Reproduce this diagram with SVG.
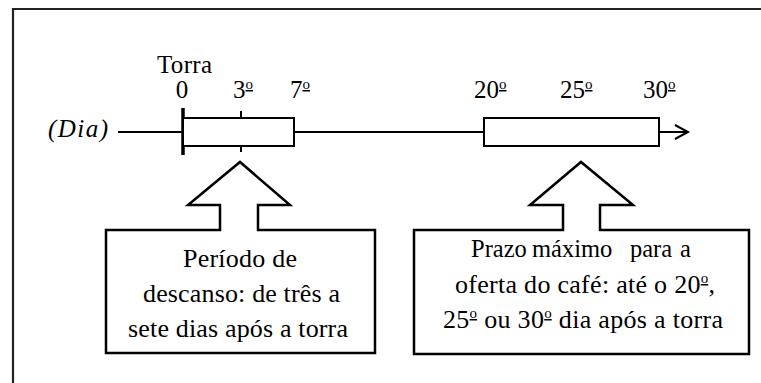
<svg xmlns="http://www.w3.org/2000/svg" width="761" height="383" viewBox="0 0 761 383">
<style>
text{font-family:"Liberation Serif","Times New Roman",serif;fill:#000}
.lbl{font-size:25px}
.box{font-size:26px}
.sup{font-size:15px;text-decoration:underline}
.ln{stroke:#000;fill:none;stroke-width:2}
.bar{stroke:#000;fill:#fff;stroke-width:2}
.call{stroke:#000;fill:#fff;stroke-width:2.5;stroke-linejoin:miter}
</style>
<rect width="761" height="383" fill="#fff"/>
<g id="frame"><path d="M13,383 V9 H761" stroke="#222" stroke-width="2.2" fill="none"/></g>
<g id="connectors">
<line class="ln" x1="118" y1="132" x2="688" y2="132"/>
<polyline class="ln" stroke-width="2.5" points="675,125 688,132 675,139"/>
<line x1="183" y1="108" x2="183" y2="155" stroke="#000" stroke-width="3.5"/>
<line class="ln" x1="241" y1="111" x2="241" y2="118"/>
<line class="ln" x1="241" y1="146" x2="241" y2="152"/>
</g>
<g id="axis-label"><text class="lbl" x="48" y="137" font-style="italic" textLength="60">(Dia)</text></g>
<g id="rest-period"><rect class="bar" x="183" y="118" width="111" height="28"/></g>
<g id="offer-period"><rect class="bar" x="484" y="118" width="175" height="28"/></g>
<g id="ticks">
<text class="lbl" x="157" y="73" textLength="55">Torra</text>
<text class="lbl" x="182" y="98" text-anchor="middle">0</text>
<text class="lbl" x="233" y="98">3<tspan class="sup" dy="-9">o</tspan></text>
<text class="lbl" x="290" y="98">7<tspan class="sup" dy="-9">o</tspan></text>
<text class="lbl" x="474" y="98">20<tspan class="sup" dy="-9">o</tspan></text>
<text class="lbl" x="560" y="98">25<tspan class="sup" dy="-9">o</tspan></text>
<text class="lbl" x="643" y="98">30<tspan class="sup" dy="-9">o</tspan></text>
</g>
<g id="callout-rest">
<path class="call" d="M106,230 H220 V205 H188 L240,162 L290,205 H258 V230 H375 V353 H106 Z"/>
<text class="box" x="240" y="267" text-anchor="middle" textLength="114">Período de</text>
<text class="box" x="241.5" y="302" text-anchor="middle" textLength="197">descanso: de três a</text>
<text class="box" x="238" y="337" text-anchor="middle" textLength="220">sete dias após a torra</text>
</g>
<g id="callout-offer">
<path class="call" d="M414,230 H563 V205 H530 L581,162 L633,205 H600 V230 H749 V354 H414 Z"/>
<text class="box" y="257" font-size="24.5" style="font-size:24.5px"><tspan x="471">Prazo</tspan><tspan x="532">máximo</tspan><tspan x="630">para</tspan><tspan x="680">a</tspan></text>
<text class="box" x="455" y="293" textLength="260">oferta do café: até o 20<tspan class="sup" dy="-10">o</tspan><tspan dy="10">,</tspan></text>
<text class="box" x="443" y="328" textLength="280">25<tspan class="sup" dy="-10">o</tspan><tspan dy="10"> ou 30</tspan><tspan class="sup" dy="-10">o</tspan><tspan dy="10"> dia após a torra</tspan></text>
</g>
</svg>
